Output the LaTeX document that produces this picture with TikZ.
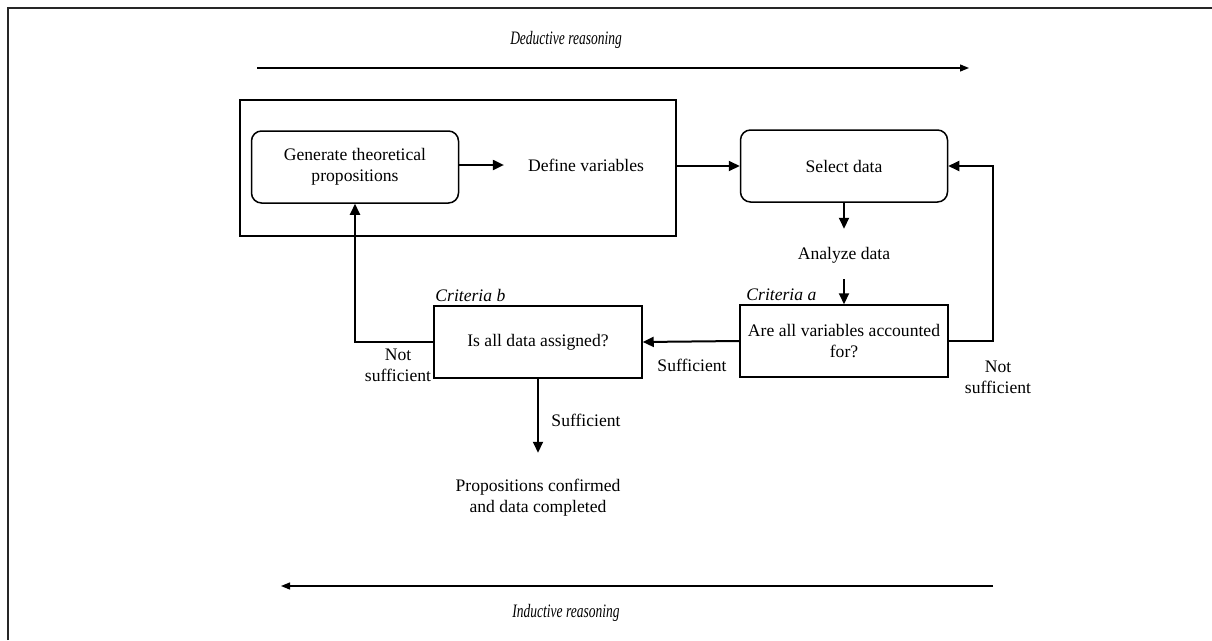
\documentclass[tikz,border=0pt]{standalone}
\usepackage{fontspec}
\setmainfont{Liberation Serif}
\usetikzlibrary{arrows.meta}
\tikzset{
  txt/.style={font=\fontsize{17.6}{21}\selectfont, align=center, inner sep=0pt},
  lbl/.style={font=\fontsize{17.6}{21}\selectfont\itshape, inner sep=0pt},
  dirlbl/.style={font=\fontsize{19}{21}\selectfont\itshape, inner sep=0pt},
  roundbox/.style={draw, line width=1.5pt, rounded corners=10pt, minimum width=207pt, minimum height=72pt, txt},
  critbox/.style={draw, line width=1.5pt, minimum width=208pt, minimum height=72pt, txt},
  flow/.style={line width=2pt, -{Triangle[length=11pt,width=10pt]}},
  sweep/.style={line width=1.3pt, -{Triangle[length=9pt,width=7pt]}},
  frame/.style={line width=2pt, draw=black!85}
}
\begin{document}
\begin{tikzpicture}[x=1pt, y=-1pt]
\useasboundingbox (0,0) rectangle (1212,640);

% page frame (top and left rules)
\draw[frame] (8,640) -- (8,8) -- (1212,8);

% reasoning directions
\node[dirlbl] (ded) at (566,40) {\scalebox{0.71}[1]{Deductive reasoning}};
\coordinate (dedS) at (257,68);
\coordinate (dedE) at (969,68);
\draw[sweep] (dedS) -- (dedE);

\node[dirlbl] (ind) at (566,613) {\scalebox{0.71}[1]{Inductive reasoning}};
\coordinate (indS) at (993,586);
\coordinate (indE) at (281,586);
\draw[sweep] (indS) -- (indE);

% theory block
\node[draw, line width=1.5pt, minimum width=436pt, minimum height=136pt, inner sep=0pt] (theory) at (458,168) {};
\node[roundbox] (gen) at (355,167) {Generate theoretical\\propositions};
\node[txt] (def) at (586,165) {Define variables};
\draw[flow] (gen.east |- def) -- ([xshift=-24pt]def.west);

% data block
\node[roundbox] (sel) at (844,166) {Select data};
\node[txt] (ana) at (844,255) {Analyze data};
\node[critbox] (ca) at (844,341) {Are all variables accounted\\for?};
\node[critbox] (cb) at (538,342) {Is all data assigned?};
\node[lbl, anchor=south west] (cal) at ([xshift=7pt,yshift=3pt]ca.north west) {Criteria a};
\node[lbl, anchor=south west] (cbl) at ([xshift=2pt,yshift=3pt]cb.north west) {Criteria b};
\node[txt] (conf) at (538,498) {Propositions confirmed\\and data completed};

% main flow
\draw[flow] (theory.east |- sel) -- (sel.west);
\draw[flow] (sel.south) -- ([yshift=-26pt]sel.south);
\draw[flow] ([yshift=25pt]ca.north) -- (ca.north);
\draw[flow] (ca.west) -- (cb.east);
\draw[flow] (cb.south) -- ([yshift=-74pt]cb.south);

% feedback loops
\coordinate (rloop) at (993,341);
\draw[flow] (ca.east) -- (rloop) -- (rloop |- sel) -- (sel.east);
\coordinate (lloop) at (355,342);
\draw[flow] (cb.west) -- (lloop) -- (gen.south);

% connector labels
\node[txt] (suffA) at (692,365) {Sufficient};
\node[txt] (nsR) at (998,377) {Not\\sufficient};
\node[txt] (nsL) at (398,365) {Not\\sufficient};
\node[txt] (suffB) at (586,420) {Sufficient};
\end{tikzpicture}
\end{document}
